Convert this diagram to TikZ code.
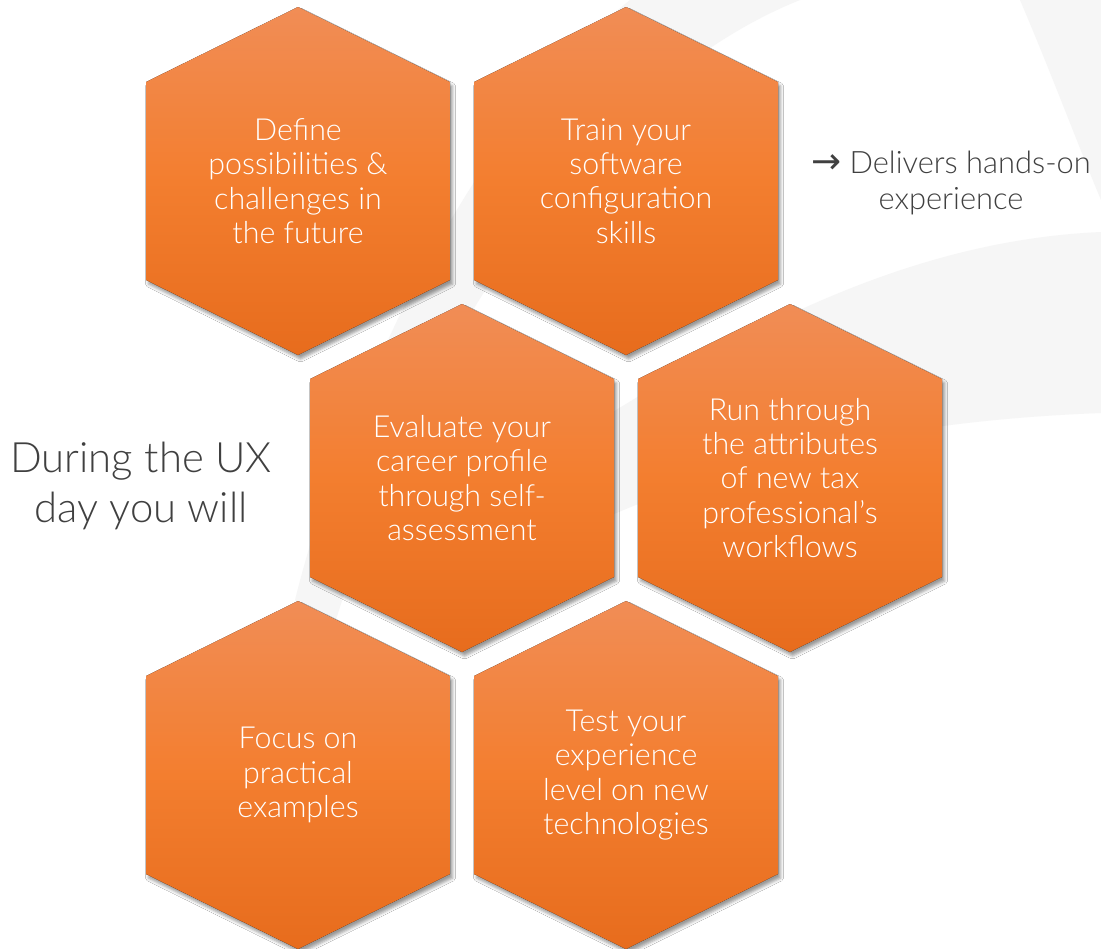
\documentclass[tikz,border=0pt]{standalone}
\usepackage{fontspec}
\IfFontExistsTF{Lato Light}{\setmainfont{Lato Light}}{\setmainfont{Lato}}
\newfontfamily\arrowfont{DejaVu Sans}
\usetikzlibrary{shadows.blur}
\definecolor{hextop}{RGB}{241,141,86}
\definecolor{hexmid}{RGB}{243,126,47}
\definecolor{hexbot}{RGB}{231,108,29}
\definecolor{textgray}{RGB}{64,64,64}
\definecolor{swoosh}{RGB}{246,246,246}
\begin{document}
\begin{tikzpicture}[x=1bp,y=-1bp,
    hexcell/.style={top color=hextop, bottom color=hexbot, middle color=hexmid,
      blur shadow={shadow xshift=2.5bp, shadow yshift=-4bp, shadow blur radius=3bp, shadow opacity=40}},
    hextext/.style={text=white, align=center, font=\fontsize{30.5}{34.5}\selectfont},
    sidetext/.style={text=textgray, align=center}]
  \useasboundingbox (0,0) rectangle (1101,949);
  \fill[white] (0,0) rectangle (1101,949);
  % light swooshes in the back
  \fill[swoosh] (330,640) .. controls (420,330) and (600,80) .. (800,0) -- (630,0) .. controls (480,120) and (350,380) .. (295,600) -- cycle;
  \fill[swoosh] (1020,0) .. controls (1050,70) and (1080,150) .. (1101,200) -- (1101,0) -- cycle;
  \fill[swoosh] (600,420) .. controls (760,320) and (920,240) .. (1101,232) -- (1101,413) .. controls (920,420) and (760,450) .. (600,520) -- cycle;
  % honeycomb
  \foreach \cx/\cy/\nm/\txt in {
      298/181/define/{Define\\possibilities \&\\challenges in\\the future},
      626/181/train/{Train your\\software\\configuration\\skills},
      462/478/evaluate/{Evaluate your\\career profile\\through self-\\assessment},
      790/478/run/{Run through\\the attributes\\of new tax\\professional’s\\workflows},
      298/775/focus/{Focus on\\practical\\examples},
      626/775/test/{Test your\\experience\\level on new\\technologies}}
  {
    \fill[hexcell] (\cx,\cy) ++(0,-174) -- ++(152,75) -- ++(0,198) -- ++(-152,75) -- ++(-152,-75) -- ++(0,-198) -- cycle;
    \node[hextext] (\nm) at (\cx,\cy) {\txt};
  }
  \node[sidetext, font=\fontsize{42}{50}\selectfont] (intro) at (141,486) {During the UX\\day you will};
  \node[sidetext, font=\fontsize{31}{37}\selectfont] (delivers) at (951,183) {{\arrowfont\fontsize{36}{37}\selectfont →} Delivers hands-on\\experience};
\end{tikzpicture}
\end{document}
